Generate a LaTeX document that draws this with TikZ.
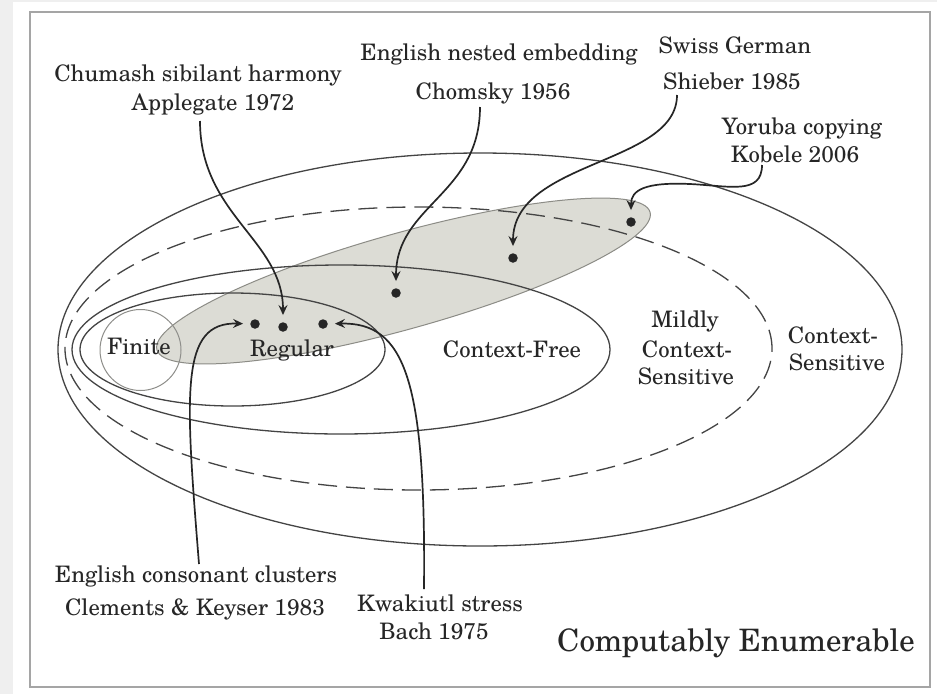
\documentclass[tikz,border=0pt]{standalone}
\usepackage{fontspec}
\setmainfont{TeX Gyre Schola}
\usetikzlibrary{arrows.meta}
\definecolor{ink}{HTML}{262626}
\definecolor{setcol}{HTML}{444444}
\definecolor{shade}{HTML}{DCDCD5}
\definecolor{shadeedge}{HTML}{8C8C86}
\definecolor{finitecol}{HTML}{8E8E8A}
\definecolor{bgcol}{HTML}{EFEFEF}
\definecolor{framecol}{HTML}{A5A5A5}
\begin{document}
\begin{tikzpicture}[x=1pt,y=-1pt,
  lab/.style={font=\fontsize{22.7}{26}\selectfont, text=ink, inner sep=0pt, anchor=base},
  biglab/.style={font=\fontsize{30.9}{34}\selectfont, text=ink, inner sep=0pt, anchor=base},
  setline/.style={draw=setcol, line width=1.3pt},
  dotmark/.style={circle, fill=ink, inner sep=0pt, minimum size=9.5pt},
  pointer/.style={draw=ink, line width=1.7pt, -{Stealth[length=10pt,width=9pt,inset=3.5pt]}, shorten >=7pt}
]
\useasboundingbox (0,0) rectangle (937,694);
\fill[bgcol] (0,0) rectangle (937,694);
\fill[white] (13,2) rectangle (937,694);
\draw[framecol, line width=1.5pt] (30,12) rectangle (930,687);

% shaded mildly context-sensitive region
\filldraw[fill=shade, draw=shadeedge, line width=1pt, rotate around={15.6:(403.5,281)}] (403.5,281) ellipse [x radius=256pt, y radius=48pt];

% language classes
\draw[setline] (480,349.5) ellipse [x radius=422pt, y radius=196.5pt];
\draw[setline, dash pattern=on 19pt off 9pt] (418.5,348.5) ellipse [x radius=353.5pt, y radius=141.5pt];
\draw[setline] (341,349.5) ellipse [x radius=269pt, y radius=84.5pt];
\draw[setline] (232.5,349.5) ellipse [x radius=152.5pt, y radius=56.5pt];
\draw[draw=finitecol, line width=1pt] (140.5,350) circle [radius=40.5pt];

% class labels
\node[lab] (fin) at (139,354) {Finite};
\node[lab] (reg) at (292,356) {Regular};
\node[lab] (cf) at (512,357) {Context-Free};
\node[lab] (mcs1) at (685,327) {Mildly};
\node[lab] (mcs2) at (687,357) {Context-};
\node[lab] (mcs3) at (686,384) {Sensitive};
\node[lab] (cs1) at (833,343) {Context-};
\node[lab] (cs2) at (837,370) {Sensitive};
\node[biglab] (ce) at (736,651) {Computably Enumerable};

% example labels
\node[lab] (chum1) at (198,81) {Chumash sibilant harmony};
\node[lab] (chum2) at (213,110) {Applegate 1972};
\node[lab] (eng1) at (499,60) {English nested embedding};
\node[lab] (eng2) at (493,99) {Chomsky 1956};
\node[lab] (sw1) at (735,53) {Swiss German};
\node[lab] (sw2) at (732,89) {Shieber 1985};
\node[lab] (yo1) at (802,134) {Yoruba copying};
\node[lab] (yo2) at (795,162) {Kobele 2006};
\node[lab] (ec1) at (196,582) {English consonant clusters};
\node[lab] (ec2) at (195,615) {Clements \& Keyser 1983};
\node[lab] (kw1) at (440,611) {Kwakiutl stress};
\node[lab] (kw2) at (434,639) {Bach 1975};

% dots
\node[dotmark] (d1) at (255,324) {};
\node[dotmark] (d2) at (283,327) {};
\node[dotmark] (d3) at (323,324) {};
\node[dotmark] (d4) at (396,293) {};
\node[dotmark] (d5) at (513,258) {};
\node[dotmark] (d6) at (631,222) {};

% arrow start points
\coordinate (chs) at (200,121);
\coordinate (engs) at (480,107);
\coordinate (sws) at (677,95);
\coordinate (yos) at (762,165);
\coordinate (ecs) at (199,564);
\coordinate (kws) at (424,589);

\draw[pointer] (chs) .. controls (200,215) and (283,240) .. (d2);
\draw[pointer] (engs) .. controls (480,195) and (396,205) .. (d4);
\draw[pointer] (sws) .. controls (677,165) and (513,160) .. (d5);
\draw[pointer] (yos) .. controls (762,195) and (730,186) .. (690,184) .. controls (645,182) and (631,190) .. (d6);
\draw[pointer] (ecs) .. controls (185,390) and (180,322) .. (d1);
\draw[pointer] (kws) .. controls (426,380) and (405,322) .. (d3);
\end{tikzpicture}
\end{document}
